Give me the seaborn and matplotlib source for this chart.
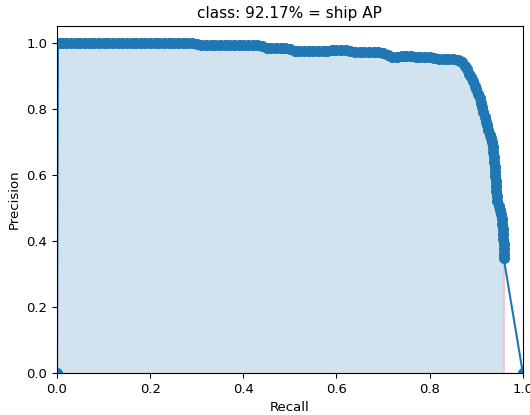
import numpy as np
import pandas as pd
import seaborn as sns
import matplotlib.pyplot as plt

# precision / recall points (without the (0,0) and (1,0) end points)
recall = [0.002, 0.01, 0.02, 0.03, 0.04, 0.05, 0.06, 0.07, 0.08, 0.09,
          0.10, 0.11, 0.12, 0.13, 0.14, 0.15, 0.16, 0.17, 0.18, 0.19,
          0.20, 0.21, 0.22, 0.23, 0.24, 0.25, 0.26, 0.27, 0.28, 0.29,
          0.30, 0.31, 0.32, 0.33, 0.34, 0.35, 0.36, 0.37, 0.38, 0.39,
          0.40, 0.41, 0.42, 0.43, 0.44, 0.45, 0.46, 0.47, 0.48, 0.49,
          0.50, 0.51, 0.52, 0.53, 0.54, 0.55, 0.56, 0.57, 0.58, 0.59,
          0.60, 0.61, 0.62, 0.63, 0.64, 0.65, 0.66, 0.67, 0.68, 0.69,
          0.70, 0.71, 0.72, 0.73, 0.74, 0.75, 0.76, 0.77, 0.78, 0.79,
          0.80, 0.81, 0.82, 0.83, 0.84, 0.85, 0.86, 0.865,
          0.87, 0.875, 0.88, 0.884, 0.888, 0.893, 0.897, 0.90, 0.904, 0.907,
          0.910, 0.912, 0.915, 0.918, 0.921, 0.923, 0.926, 0.929, 0.931, 0.933,
          0.935, 0.937, 0.938, 0.939, 0.940, 0.941, 0.941, 0.942, 0.942, 0.943,
          0.944, 0.945, 0.948, 0.951, 0.954, 0.955, 0.956, 0.957, 0.958, 0.958,
          0.959, 0.959, 0.959, 0.959]
precision = [1.0, 1.0, 1.0, 1.0, 1.0, 1.0, 1.0, 1.0, 1.0, 1.0,
             1.0, 1.0, 1.0, 1.0, 1.0, 1.0, 1.0, 1.0, 1.0, 1.0,
             1.0, 1.0, 1.0, 1.0, 1.0, 1.0, 1.0, 1.0, 1.0, 1.0,
             0.997, 0.993, 0.993, 0.993, 0.993, 0.993, 0.993, 0.993, 0.993, 0.993,
             0.993, 0.993, 0.993, 0.993, 0.99, 0.984, 0.983, 0.983, 0.983, 0.983,
             0.98, 0.974, 0.974, 0.974, 0.974, 0.974, 0.974, 0.974, 0.975, 0.977,
             0.978, 0.978, 0.978, 0.975, 0.971, 0.971, 0.971, 0.971, 0.971, 0.971,
             0.968, 0.962, 0.958, 0.956, 0.959, 0.961, 0.961, 0.958, 0.957, 0.957,
             0.956, 0.953, 0.952, 0.952, 0.952, 0.951, 0.948, 0.946,
             0.94, 0.93, 0.92, 0.905, 0.895, 0.885, 0.87, 0.86, 0.846, 0.832,
             0.818, 0.804, 0.79, 0.775, 0.76, 0.75, 0.735, 0.72, 0.71, 0.70,
             0.685, 0.67, 0.655, 0.64, 0.625, 0.61, 0.595, 0.58, 0.565, 0.55,
             0.535, 0.52, 0.505, 0.495, 0.48, 0.465, 0.45, 0.435, 0.42, 0.405,
             0.39, 0.375, 0.36, 0.347]
class_name = 'ship'
ap = 92.17

rec = [0.0] + recall + [1.0]
prec = [0.0] + precision + [0.0]

# envelope of the precision for the shaded area (max precision to the right)
mprec = list(np.maximum.accumulate(prec[::-1])[::-1])
mrec = rec[:]
area_x = mrec[:-1] + [mrec[-2]] + [mrec[-1]]
area_y = mprec[:-1] + [0.0] + [prec[-1]]

df = pd.DataFrame({'Recall': rec, 'Precision': prec})

fig = plt.figure(figsize=(5.3, 4.15), dpi=100)
ax = fig.add_axes([0.1075, 0.101, 0.879, 0.836])
sns.lineplot(data=df, x='Recall', y='Precision', sort=False, estimator=None,
             marker='o', markersize=7, color='C0', markeredgecolor='C0',
             markeredgewidth=1, linewidth=1.5, ax=ax)
ax.fill_between(area_x, 0, area_y, alpha=0.2, edgecolor='r')

ax.set_title('class: ' + f'{ap:.2f}%' + ' = ' + class_name + ' AP', fontsize=11)
ax.set_xlabel('Recall', fontsize=9.5)
ax.set_ylabel('Precision', fontsize=9.5)
ax.tick_params(labelsize=9.5)
ax.set_xlim(0.0, 1.0)
ax.set_ylim(0.0, 1.05)

plt.savefig('out.png', dpi=100)
